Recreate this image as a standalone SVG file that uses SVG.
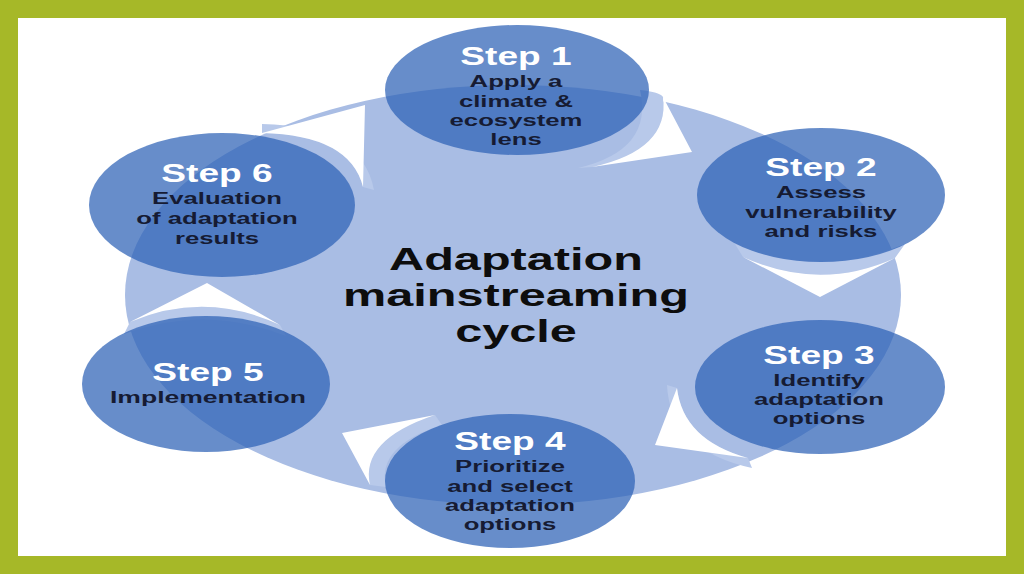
<svg xmlns="http://www.w3.org/2000/svg" width="1024" height="574" viewBox="0 0 1024 574">
<style>
.node{fill:rgb(45,97,182);fill-opacity:0.72}
.title{font-family:"Liberation Sans",Arial,sans-serif;font-weight:700;font-size:26.5px;fill:#ffffff;text-anchor:middle}
.desc{font-family:"Liberation Sans",Arial,sans-serif;font-weight:700;font-size:16.8px;fill:#161b33;text-anchor:middle}
.center{font-family:"Liberation Sans",Arial,sans-serif;font-weight:700;font-size:32px;fill:#0d0d0d;text-anchor:middle}
.band{fill:#b8c9ea}
.head{fill:#ffffff}
</style>
<rect x="0" y="0" width="1024" height="574" fill="#a6b828"/>
<rect x="18" y="18" width="988" height="538" fill="#ffffff"/>
<ellipse id="cycle" cx="513" cy="295" rx="388" ry="210" fill="#a9bde4"/>
<g id="connectors">
<path class="band" d="M640,90 Q660,92 663,97 Q670,150 592,167 L578,168 Q654,150 640,90 Z"/>
<path class="head" d="M663,97 L692,152 L592,167 Q670,150 663,97 Z"/>
<path class="band" d="M743,257 Q820,292 895,258 L905,244 Q820,280 735,244 Z"/>
<path class="head" d="M743,257 L820,297 L895,258 Q820,292 743,257 Z"/>
<path class="band" d="M677,388 Q683,440 748,458 L752,468 Q670,450 667,385 Z"/>
<path class="head" d="M677,388 L655,445 L748,458 Q683,440 677,388 Z"/>
<path class="band" d="M435,415 Q360,440 370,485 L386,487 Q376,446 442,425 Z"/>
<path class="head" d="M435,415 L342,433 L370,485 Q360,440 435,415 Z"/>
<path class="band" d="M130,322 Q205,290 280,325 L286,336 Q205,304 124,334 Z"/>
<path class="head" d="M207,283 L280,325 Q205,290 130,322 Z"/>
<path class="band" d="M262,133 Q350,135 363,187 L374,190 Q362,126 262,124 Z"/>
<path class="head" d="M262,133 L365,105 L363,187 Q350,135 262,133 Z"/>
</g>
<g id="step1">
<ellipse class="node" cx="517" cy="90" rx="132" ry="65"/>
<g transform="translate(516,0) scale(1.4,1)"><text class="title" x="0" y="65">Step 1</text></g>
<g transform="translate(516,0) scale(1.53,1)">
<text class="desc" x="0" y="87">Apply a</text>
<text class="desc" x="0" y="107">climate &amp;</text>
<text class="desc" x="0" y="126">ecosystem</text>
<text class="desc" x="0" y="145">lens</text>
</g>
</g>
<g id="step2">
<ellipse class="node" cx="821" cy="195" rx="124" ry="67"/>
<g transform="translate(821,0) scale(1.4,1)"><text class="title" x="0" y="176">Step 2</text></g>
<g transform="translate(821,0) scale(1.53,1)">
<text class="desc" x="0" y="198">Assess</text>
<text class="desc" x="0" y="218">vulnerability</text>
<text class="desc" x="0" y="237">and risks</text>
</g>
</g>
<g id="step3">
<ellipse class="node" cx="820" cy="387" rx="125" ry="67"/>
<g transform="translate(819,0) scale(1.4,1)"><text class="title" x="0" y="364">Step 3</text></g>
<g transform="translate(819,0) scale(1.53,1)">
<text class="desc" x="0" y="386">Identify</text>
<text class="desc" x="0" y="405">adaptation</text>
<text class="desc" x="0" y="424">options</text>
</g>
</g>
<g id="step4">
<ellipse class="node" cx="510" cy="481" rx="125" ry="67"/>
<g transform="translate(510,0) scale(1.4,1)"><text class="title" x="0" y="450">Step 4</text></g>
<g transform="translate(510,0) scale(1.53,1)">
<text class="desc" x="0" y="472">Prioritize</text>
<text class="desc" x="0" y="492">and select</text>
<text class="desc" x="0" y="511">adaptation</text>
<text class="desc" x="0" y="530">options</text>
</g>
</g>
<g id="step5">
<ellipse class="node" cx="206" cy="384" rx="124" ry="68"/>
<g transform="translate(208,0) scale(1.4,1)"><text class="title" x="0" y="381">Step 5</text></g>
<g transform="translate(208,0) scale(1.58,1)">
<text class="desc" x="0" y="403">Implementation</text>
</g>
</g>
<g id="step6">
<ellipse class="node" cx="222" cy="205" rx="133" ry="72"/>
<g transform="translate(217,0) scale(1.4,1)"><text class="title" x="0" y="182">Step 6</text></g>
<g transform="translate(217,0) scale(1.53,1)">
<text class="desc" x="0" y="204">Evaluation</text>
<text class="desc" x="0" y="224">of adaptation</text>
<text class="desc" x="0" y="244">results</text>
</g>
</g>
<g id="center-label" transform="translate(516,0) scale(1.52,1)">
<text class="center" x="0" y="270">Adaptation</text>
<text class="center" x="0" y="306">mainstreaming</text>
<text class="center" x="0" y="342">cycle</text>
</g>
</svg>
